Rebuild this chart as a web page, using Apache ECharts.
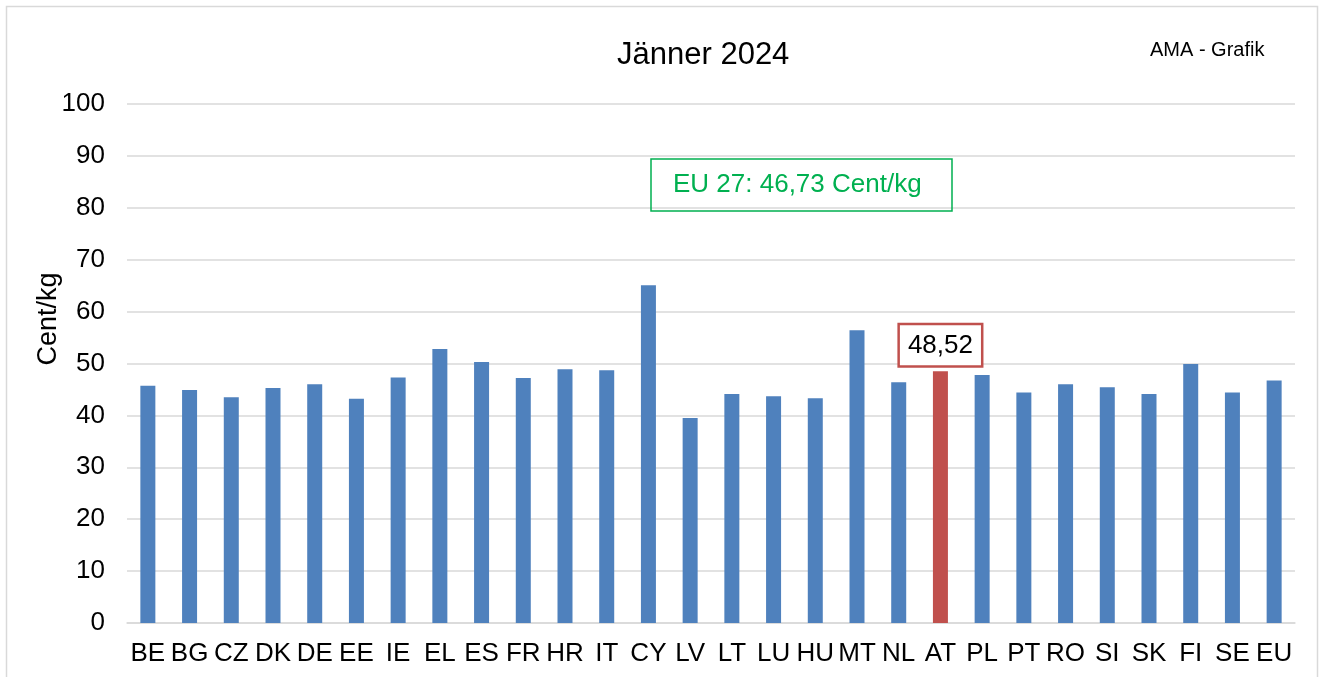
<!DOCTYPE html>
<html>
<head>
<meta charset="utf-8">
<script src="https://cdn.jsdelivr.net/npm/echarts@6/dist/echarts.min.js"></script>
<style>
html,body{margin:0;padding:0;background:#fff;}
#chart{width:1324px;height:677px;}
</style>
</head>
<body>
<div id="chart"></div>
<script>
var countries = ['BE','BG','CZ','DK','DE','EE','IE','EL','ES','FR','HR','IT','CY','LV','LT','LU','HU','MT','NL','AT','PL','PT','RO','SI','SK','FI','SE','EU'];
var prices = [45.7,44.9,43.5,45.3,46.0,43.2,47.3,52.8,50.3,47.2,48.9,48.7,65.1,39.5,44.1,43.7,43.3,56.4,46.4,48.52,47.8,44.4,46.0,45.4,44.1,49.9,44.4,46.73];
var yTicks = [0,10,20,30,40,50,60,70,80,90,100];
var highlight = 'AT';
var euAverage = 46.73;
var unit = 'Cent/kg';

var Chart = {
	init:function(){
		var myChart = echarts.init(document.getElementById('chart'));
		var fmt = function(v){ return v.toFixed(2).replace('.', ','); };

		var data = countries.map(function(c, i){
			if (c === highlight) {
				return {
					value: prices[i],
					itemStyle: {color: '#C0504D'},
					label: {
						show: true,
						position: 'top',
						distance: 6,
						formatter: function(p){ return fmt(p.value); },
						color: '#000',
						fontSize: 26,
						fontFamily: 'Liberation Sans, Arial, sans-serif',
						backgroundColor: '#fff',
						borderColor: '#C0504D',
						borderWidth: 2.5,
						padding: [8, 8, 6, 8]
					}
				};
			}
			return prices[i];
		});

		var option = {
			animation: false,
			textStyle: {fontFamily: 'Liberation Sans, Arial, sans-serif'},
			graphic: [{
				type: 'rect',
				shape: {x: 6.5, y: 6.5, width: 1311, height: 690},
				style: {fill: 'none', stroke: '#d9d9d9', lineWidth: 1.5},
				silent: true
			}, {
				// y-axis name, placed by hand like the original
				type: 'text',
				x: 49,
				y: 319,
				rotation: Math.PI / 2,
				style: {
					text: unit,
					fill: '#000',
					font: '27px "Liberation Sans", Arial, sans-serif',
					textAlign: 'center',
					textVerticalAlign: 'middle'
				},
				silent: true
			}],
			title: [{
				text: 'Jänner 2024',
				left: 612,
				top: 35,
				textStyle: {fontSize: 31, fontWeight: 'normal', color: '#000'}
			}, {
				text: 'AMA - Grafik',
				left: 1145,
				top: 35,
				textStyle: {fontSize: 20, fontWeight: 'normal', color: '#000'}
			}, {
				text: 'EU 27: ' + fmt(euAverage) + ' ' + unit,
				left: 651,
				top: 159,
				borderColor: '#00B050',
				borderWidth: 1.5,
				padding: [13, 31, 13, 22],
				textStyle: {fontSize: 26, fontWeight: 'normal', color: '#00B050'}
			}],
			grid: {left: 127, right: 29, top: 104, bottom: 54},
			xAxis: {
				type: 'category',
				data: countries,
				axisLine: {lineStyle: {color: '#d9d9d9', width: 1.5}},
				axisTick: {show: false},
				axisLabel: {color: '#000', fontSize: 26, margin: 18, interval: 0}
			},
			yAxis: {
				type: 'value',
				min: 0,
				max: 100,
				interval: 10,
				axisLine: {show: false},
				axisTick: {show: false},
				axisLabel: {
					color: '#000', fontSize: 26, margin: 22,
					formatter: function(v){ return yTicks.indexOf(v) >= 0 ? String(v) : ''; }
				},
				splitLine: {lineStyle: {color: '#d9d9d9', width: 1.5}}
			},
			series: [{
				type: 'bar',
				data: data,
				barWidth: 15,
				itemStyle: {color: '#4F81BD'}
			}]
		};

		window.addEventListener("resize", function () {
			myChart.resize();
		});
		myChart.setOption(option, true);
	}
};

Chart.init();
</script>
</body>
</html>
